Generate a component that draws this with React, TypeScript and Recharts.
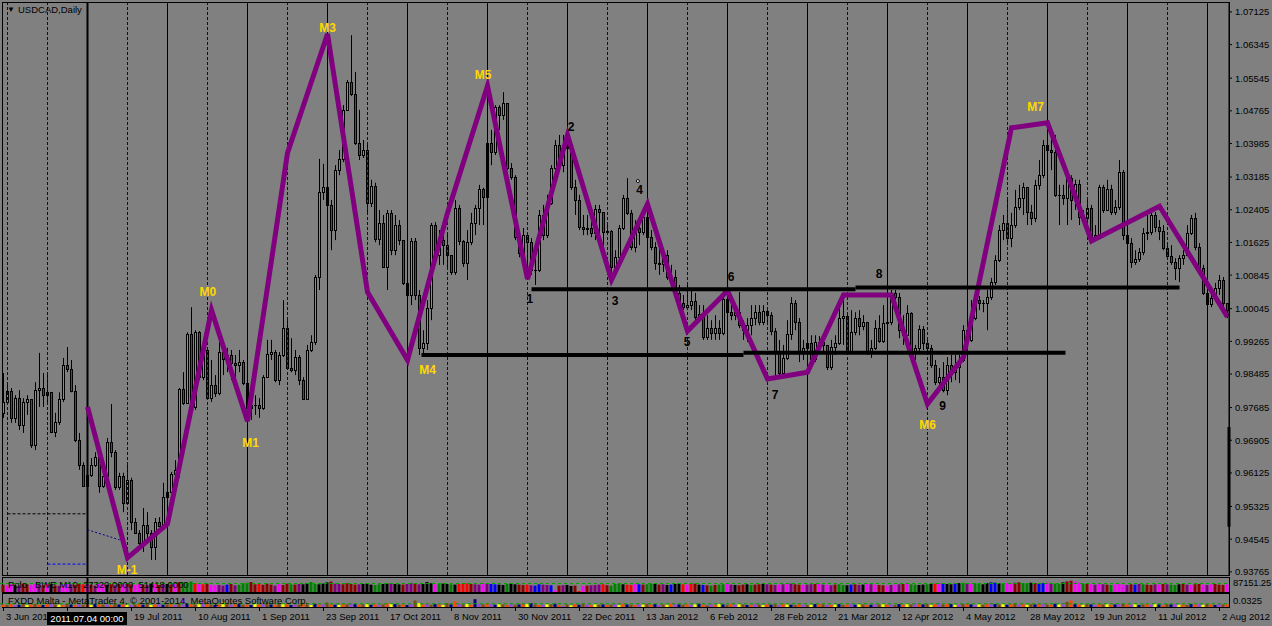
import React from "react";
import {
  Bar,
  BarChart,
  Cell,
  ComposedChart,
  Line,
  ReferenceDot,
  ReferenceLine,
  Scatter,
  XAxis,
  YAxis,
} from "recharts";

const FONT = '"Liberation Sans", Arial, sans-serif';
const BG = "#808080";
const UP = "#32cd32";
const DOWN = "#e01010";

// daily USDCAD bars, 3 Jun 2011 .. Aug 2012
const firstOpen = 0.9756;
const closes = [
  0.9782, 0.9808, 0.9744, 0.9791, 0.9727, 0.9782, 0.9789, 0.9679, 0.981, 0.9815,
  0.9798, 0.9805, 0.971, 0.9734, 0.9789, 0.987, 0.9861, 0.9808, 0.9691, 0.9631,
  0.9582, 0.9608, 0.9631, 0.965, 0.9582, 0.9606, 0.9686, 0.9662, 0.9579, 0.9606,
  0.9541, 0.9596, 0.9495, 0.9469, 0.9446, 0.9488, 0.9469, 0.9436, 0.9495, 0.9486,
  0.9555, 0.9567, 0.961, 0.962, 0.9813, 0.978, 0.9943, 0.977, 0.9948, 0.9841,
  0.9906, 0.9791, 0.9822, 0.9803, 0.9901, 0.9885, 0.9894, 0.9875, 0.987, 0.9877,
  0.9827, 0.9768, 0.9775, 0.9775, 0.9768, 0.9841, 0.9896, 0.9901, 0.9834, 0.9894,
  0.9958, 0.9863, 0.9858, 0.9889, 0.9834, 0.9789, 0.9906, 0.9925, 1.008, 1.0283,
  1.0295, 1.0252, 1.0192, 1.0335, 1.0362, 1.0479, 1.0545, 1.0516, 1.04, 1.0371,
  1.0383, 1.0257, 1.0298, 1.0171, 1.0209, 1.0104, 1.0233, 1.0144, 1.0204, 1.0168,
  1.0066, 1.0037, 1.0166, 1.0037, 0.9911, 0.9923, 1.0006, 1.0204, 1.0132, 1.0168,
  1.0156, 1.0132, 1.0092, 1.0245, 1.0166, 1.0114, 1.0163, 1.0209, 1.0245, 1.0291,
  1.0271, 1.04, 1.0378, 1.0485, 1.0467, 1.0495, 1.034, 1.0318, 1.0175, 1.0137,
  1.018, 1.0163, 1.0097, 1.0097, 1.0228, 1.018, 1.0257, 1.034, 1.0395, 1.0347,
  1.0388, 1.0395, 1.0295, 1.0264, 1.0199, 1.0195, 1.0197, 1.0185, 1.0243, 1.0235,
  1.0187, 1.019, 1.0104, 1.0127, 1.0197, 1.0269, 1.0233, 1.0151, 1.0197, 1.0187,
  1.0223, 1.0175, 1.0151, 1.0114, 1.0111, 1.0132, 1.008, 1.008, 1.0042, 1.0018,
  1.0008, 1.0013, 1.0023, 0.9984, 0.9991, 0.9936, 0.9958, 0.9946, 0.9958, 0.9946,
  1.0028, 0.9996, 0.9989, 0.9996, 0.9965, 0.9953, 0.9965, 0.9982, 0.9996, 0.9972,
  0.9999, 0.9989, 0.9951, 0.9901, 0.9851, 0.9887, 0.9943, 1.0018, 0.9972, 0.9899,
  0.9911, 0.9923, 0.9885, 0.9925, 0.9925, 0.9918, 0.9865, 0.9913, 0.9923, 0.9982,
  0.9987, 0.9904, 0.9948, 0.9982, 0.9963, 0.9972, 0.9901, 0.9911, 0.9958, 0.9928,
  0.997, 0.9972, 1.0042, 1.0032, 0.9953, 0.9941, 0.9994, 0.9899, 0.9911, 0.9956,
  0.9923, 0.9911, 0.987, 0.9829, 0.9841, 0.981, 0.987, 0.9853, 0.9865, 0.9882,
  0.9953, 0.993, 0.9982, 1.0025, 1.0018, 1.0018, 1.0032, 1.0068, 1.0121, 1.0192,
  1.0209, 1.0173, 1.0204, 1.0247, 1.0269, 1.0295, 1.0235, 1.0221, 1.03, 1.0323,
  1.0395, 1.0383, 1.0378, 1.0276, 1.0276, 1.0269, 1.0316, 1.0264, 1.0302, 1.0223,
  1.0221, 1.0245, 1.0175, 1.018, 1.0295, 1.024, 1.0291, 1.0235, 1.0247, 1.033,
  1.018, 1.0161, 1.0116, 1.0123, 1.0139, 1.0185, 1.0187, 1.0228, 1.0199, 1.019,
  1.0149, 1.013, 1.0116, 1.0102, 1.0125, 1.0132, 1.0185, 1.0221, 1.0151, 1.0102,
  1.0042, 1.0015, 1.003, 1.0054, 1.0073, 1.0018, 1.0001,
];
const highs = [
  0.9851, 0.9822, 0.9815, 0.9798, 0.981, 0.9791, 0.9798, 0.977, 0.9829, 0.9899,
  0.9851, 0.9851, 0.9805, 0.9756, 0.9805, 0.9887, 0.9913, 0.9882, 0.9822, 0.9708,
  0.9638, 0.9636, 0.9648, 0.9662, 0.9662, 0.962, 0.9696, 0.9777, 0.9667, 0.9613,
  0.9613, 0.9631, 0.9601, 0.9505, 0.9476, 0.9529, 0.9519, 0.9476, 0.9505, 0.9507,
  0.9589, 0.9579, 0.9615, 0.9643, 0.9815, 0.9853, 0.9948, 1.0008, 0.9953, 0.9951,
  0.993, 0.9906, 0.9882, 0.9846, 0.993, 0.9911, 0.9911, 0.9906, 0.9894, 0.9906,
  0.9882, 0.9798, 0.9791, 0.9798, 0.9791, 0.9846, 0.993, 0.993, 0.9906, 0.9901,
  1.0025, 0.9977, 0.9934, 0.9906, 0.9894, 0.9841, 0.9918, 0.9941, 1.0085, 1.0362,
  1.035, 1.0312, 1.0264, 1.0347, 1.0383, 1.049, 1.055, 1.0657, 1.0569, 1.0479,
  1.0407, 1.0395, 1.0312, 1.0305, 1.024, 1.0228, 1.024, 1.024, 1.0228, 1.0216,
  1.0168, 1.0102, 1.0173, 1.0173, 1.0049, 0.9953, 1.0025, 1.0209, 1.0211, 1.0192,
  1.0216, 1.018, 1.0132, 1.0264, 1.0252, 1.0168, 1.0192, 1.0233, 1.0252, 1.03,
  1.0293, 1.0407, 1.0431, 1.049, 1.049, 1.0521, 1.049, 1.0352, 1.0323, 1.0192,
  1.0197, 1.0187, 1.0173, 1.0132, 1.024, 1.0252, 1.0276, 1.0347, 1.0407, 1.0419,
  1.0419, 1.0424, 1.0395, 1.0312, 1.0276, 1.0228, 1.0228, 1.0216, 1.0252, 1.0252,
  1.0216, 1.0204, 1.0192, 1.0144, 1.0204, 1.0276, 1.0316, 1.024, 1.0216, 1.0216,
  1.024, 1.0288, 1.0192, 1.0163, 1.0156, 1.0144, 1.0144, 1.0109, 1.0097, 1.0061,
  1.0037, 1.0068, 1.0049, 1.0042, 1.0013, 1.0013, 0.9989, 0.9977, 0.9989, 0.9977,
  1.0049, 1.0049, 1.0013, 1.0013, 1.0044, 0.9977, 0.9982, 1.0013, 1.0013, 1.0013,
  1.0013, 1.0001, 0.9996, 0.9958, 0.993, 0.9918, 0.9977, 1.0032, 1.0025, 0.9982,
  0.993, 0.9934, 0.9941, 0.9941, 0.9939, 0.9934, 0.9918, 0.993, 0.9941, 1.0013,
  1.0025, 0.9989, 1.0001, 0.9996, 1.0001, 0.9989, 0.9965, 0.993, 0.9977, 0.9989,
  1.0013, 0.9989, 1.0049, 1.0049, 1.0042, 0.9989, 1.0013, 0.9996, 0.9918, 0.9965,
  0.9963, 0.993, 0.9918, 0.9882, 0.9863, 0.9877, 0.9889, 0.9894, 0.9894, 0.9894,
  0.9965, 0.9965, 1.0025, 1.0037, 1.0035, 1.0025, 1.0049, 1.0078, 1.0132, 1.0204,
  1.0228, 1.0264, 1.0233, 1.0288, 1.03, 1.0305, 1.0269, 1.0252, 1.0312, 1.0359,
  1.0407, 1.0443, 1.0436, 1.0419, 1.03, 1.03, 1.0323, 1.0323, 1.0312, 1.0312,
  1.024, 1.0264, 1.0252, 1.0204, 1.03, 1.03, 1.0312, 1.03, 1.0264, 1.0359,
  1.0335, 1.018, 1.0173, 1.0144, 1.0149, 1.0197, 1.0228, 1.024, 1.0235, 1.0216,
  1.0204, 1.0156, 1.0156, 1.0125, 1.0132, 1.0144, 1.0204, 1.0228, 1.0233, 1.0161,
  1.0109, 1.0042, 1.0037, 1.0066, 1.0085, 1.008, 1.0018,
];
const lows = [
  0.9744, 0.9775, 0.9732, 0.9732, 0.9715, 0.9708, 0.9751, 0.9672, 0.9667, 0.977,
  0.977, 0.9775, 0.9708, 0.9698, 0.9727, 0.9782, 0.9853, 0.9805, 0.9686, 0.962,
  0.9579, 0.9565, 0.9603, 0.9627, 0.9565, 0.9577, 0.9603, 0.965, 0.9572, 0.9572,
  0.9519, 0.9543, 0.9476, 0.9467, 0.9429, 0.9424, 0.9446, 0.9405, 0.9405, 0.9483,
  0.9483, 0.9524, 0.9565, 0.9603, 0.9601, 0.9775, 0.981, 0.9768, 0.9763, 0.9834,
  0.9834, 0.9787, 0.9782, 0.9794, 0.9798, 0.9846, 0.9853, 0.9834, 0.9822, 0.9853,
  0.9822, 0.9739, 0.9739, 0.9751, 0.9744, 0.9763, 0.9858, 0.9882, 0.9829, 0.9822,
  0.9889, 0.9858, 0.9853, 0.9846, 0.9822, 0.9787, 0.9805, 0.9901, 0.9918, 1.0049,
  1.0264, 1.0228, 1.0144, 1.0168, 1.0323, 1.0354, 1.0479, 1.0512, 1.0395, 1.0359,
  1.0364, 1.0233, 1.0247, 1.0163, 1.0156, 1.0102, 1.0049, 1.0132, 1.0132, 1.0156,
  1.0061, 1.0001, 1.0013, 1.0025, 0.9894, 0.9894, 0.9906, 0.9977, 1.0116, 1.0109,
  1.0109, 1.0097, 1.0085, 1.0085, 1.0156, 1.0104, 1.0073, 1.0156, 1.018, 1.0204,
  1.0204, 1.0264, 1.0347, 1.0371, 1.0431, 1.0455, 1.0335, 1.0312, 1.0168, 1.0127,
  1.0125, 1.0097, 1.0085, 1.0061, 1.0092, 1.0168, 1.0173, 1.0252, 1.0323, 1.0335,
  1.033, 1.0359, 1.0288, 1.0228, 1.0192, 1.018, 1.018, 1.0175, 1.0168, 1.018,
  1.0125, 1.018, 1.0073, 1.0097, 1.0121, 1.0192, 1.0228, 1.0144, 1.0139, 1.0156,
  1.018, 1.0168, 1.0144, 1.0097, 1.0085, 1.0092, 1.0073, 1.0061, 1.0037, 1.0013,
  1.0001, 1.0001, 1.0001, 0.9977, 0.9977, 0.993, 0.993, 0.993, 0.993, 0.993,
  0.9941, 0.9982, 0.9977, 0.9977, 0.9958, 0.993, 0.9925, 0.9941, 0.9965, 0.9965,
  0.9965, 0.9965, 0.9941, 0.9841, 0.9846, 0.9839, 0.9882, 0.993, 0.9953, 0.9877,
  0.9882, 0.9894, 0.9877, 0.9877, 0.9906, 0.9901, 0.9858, 0.9858, 0.9894, 0.9918,
  0.9918, 0.9899, 0.9899, 0.9941, 0.9941, 0.9953, 0.9894, 0.9887, 0.9906, 0.9923,
  0.9923, 0.9963, 0.9965, 1.0025, 0.9934, 0.9918, 0.9965, 0.9894, 0.9882, 0.9901,
  0.9906, 0.9894, 0.9863, 0.9822, 0.9815, 0.9805, 0.9798, 0.9829, 0.9834, 0.9827,
  0.9877, 0.9894, 0.9925, 0.9977, 1.0001, 0.9996, 0.9953, 1.0025, 1.0061, 1.0116,
  1.0168, 1.0156, 1.0151, 1.0197, 1.024, 1.0228, 1.0204, 1.0204, 1.0211, 1.0288,
  1.0316, 1.0323, 1.0335, 1.0271, 1.0204, 1.0252, 1.0204, 1.0216, 1.024, 1.0204,
  1.0204, 1.0211, 1.0168, 1.0173, 1.0173, 1.0233, 1.024, 1.0228, 1.0228, 1.024,
  1.0168, 1.0144, 1.0102, 1.0109, 1.0116, 1.0132, 1.0168, 1.018, 1.0187, 1.0168,
  1.0144, 1.0121, 1.0109, 1.0073, 1.0068, 1.0109, 1.0132, 1.018, 1.0144, 1.0097,
  1.0037, 1.0001, 1.0008, 1.0025, 1.0037, 1.0001, 0.9982,
];

// zigzag swing points (bar index, price)
const zigzagBars = [21, 31, 41, 52, 61, 71, 81, 91, 101, 111, 121, 131, 141, 152, 161, 171, 181, 191, 201, 210, 222, 231, 240, 252, 261, 266, 272, 289, 306];
const zigzagPrices = [0.977, 0.941, 0.9491, 1.0001, 0.9736, 1.0376, 1.066, 1.0044, 0.9882, 1.0233, 1.0536, 1.0075, 1.0419, 1.0073, 1.0254, 0.9951, 1.0047, 0.9837, 0.9853, 1.0037, 1.0037, 0.9777, 0.9889, 1.0436, 1.0448, 1.0323, 1.0166, 1.0249, 0.9985];

const markTexts = ["M-1", "M0", "M1", "M3", "M4", "M5", "1", "2", "3", "4", "5", "6", "7", "8", "9", "M6", "M7"];
const markBars = [30.9, 51.1, 61.8, 81, 106, 119.9, 131.6, 141.9, 152.9, 159, 170.9, 181.9, 192.9, 218.9, 234.8, 231, 258];
const markPrices = [0.9381, 1.0045, 0.9684, 1.0673, 0.9858, 1.0562, 1.0027, 1.0437, 1.0023, 1.0288, 0.9924, 1.0081, 0.9799, 1.0087, 0.9772, 0.9727, 1.0485];

// drawn horizontal levels
const levelFrom = [132, 213, 104.5, 185];
const levelTo = [213, 294, 185, 265.5];
const levelPrice = [1.0051, 1.0055, 0.9894, 0.9899];

// price band marker on the right scale
const scaleBandTop = 0.9722;
const scaleBandBottom = 0.9484;

const priceTicks = [1.07125, 1.06345, 1.05545, 1.04765, 1.03985, 1.03185, 1.02405, 1.01625, 1.00845, 1.00045, 0.99265, 0.98485, 0.97685, 0.96905, 0.96125, 0.95325, 0.94545, 0.93765];
const dateTicks = [0, 16, 32, 48, 64, 80, 96, 112, 128, 144, 160, 176, 192, 208, 224, 240, 256, 272, 288, 304];
// the 2nd label sits under the crosshair date box, so it is not shown
const dateLabels = ["3 Jun 2011", "", "19 Jul 2011", "10 Aug 2011", "1 Sep 2011", "23 Sep 2011", "17 Oct 2011", "8 Nov 2011", "30 Nov 2011", "22 Dec 2011", "13 Jan 2012", "6 Feb 2012", "28 Feb 2012", "21 Mar 2012", "12 Apr 2012", "4 May 2012", "28 May 2012", "19 Jun 2012", "11 Jul 2012", "2 Aug 2012"];

// volume sub-window (thousands) and bar colour codes
const volumeK = [
  45, 40, 50, 42, 38, 52, 48, 44, 50, 46, 40, 55, 48, 42, 38, 45, 50, 47, 44, 52,
  48, 50, 46, 40, 55, 50, 45, 48, 42, 50, 46, 52, 48, 44, 50, 47, 45, 53, 49, 44,
  48, 50, 46, 55, 60, 62, 58, 65, 55, 50, 48, 52, 45, 42, 44, 40, 46, 50, 42, 45,
  55, 58, 62, 48, 50, 45, 52, 46, 40, 50, 44, 52, 48, 46, 50, 48, 55, 62, 50, 48,
  52, 60, 65, 52, 50, 48, 54, 50, 46, 48, 50, 52, 46, 44, 48, 50, 52, 55, 50, 48,
  46, 50, 55, 52, 48, 50, 62, 54, 48, 50, 52, 50, 48, 46, 50, 52, 54, 50, 48, 46,
  55, 52, 50, 48, 46, 44, 50, 52, 48, 46, 44, 46, 42, 40, 48, 46, 44, 42, 12, 40,
  42, 44, 38, 40, 6, 38, 40, 42, 44, 46, 48, 42, 40, 50, 52, 48, 46, 44, 50, 48,
  46, 48, 52, 50, 46, 48, 44, 46, 50, 52, 48, 46, 50, 52, 46, 44, 42, 40, 44, 46,
  48, 50, 46, 44, 42, 46, 48, 44, 46, 48, 50, 48, 46, 44, 46, 48, 50, 52, 48, 46,
  44, 46, 48, 50, 52, 46, 44, 42, 46, 48, 44, 42, 46, 48, 44, 46, 50, 48, 46, 44,
  42, 40, 44, 46, 48, 50, 52, 48, 46, 44, 46, 48, 50, 52, 56, 54, 50, 48, 52, 56,
  58, 55, 52, 54, 50, 48, 56, 60, 58, 54, 52, 56, 54, 58, 60, 56, 54, 58, 56, 52,
  55, 58, 54, 52, 50, 60, 66, 70, 64, 58, 52, 50, 48, 46, 50, 48, 46, 44, 48, 50,
  46, 44, 48, 46, 50, 48, 46, 44, 48, 46, 50, 48, 46, 44, 48, 50, 46, 44, 48, 50,
  46, 44, 48, 50, 46, 44, 48,
];
const volumeColorCodes =
  "dmmkpddmmpdmkdpmmpddrmdpmmkdpdmpdmmdpkmdpkdmd" +
  "gggrmrdmmppbdpgggddrdddpmddgdpkkggkkkdppddddpkkkggkkpkkdppdp" +
  "kkkmgkkgkrrrdppmpbbkkgkkddrpbbppbmdpkkdrmdppprdgggkrrmbdggkd" +
  "pkbkkrmrdkbdgdggmpkddkgddkpdpmpmpddmppdmpmpdggkbdpkmpmddmpmp" +
  "dmggkkgkrmbkkbkgpmggkkbbkgmmddggkdbbmpggkddmmgdmpmpdgmmmpdbp" +
  "gddpmdpggkdpmddmpmdddm";
const volumePalette: Record<string, string> = { g: "#008000", k: "#000000", r: "#ff0000", d: "#8b0000", m: "#ff00ff", p: "#800080", b: "#0000ff" };

// second sub-window (thousandths) and colour codes
const spreadM = [
  8, 6, 10, 5, 7, 9, 6, 8, 10, 7, 6, 9, 12, 8, 7, 6, 10, 8, 6, 9,
  7, 8, 6, 10, 9, 7, 8, 6, 10, 8, 9, 7, 6, 8, 12, 7, 9, 6, 8, 10,
  7, 8, 9, 6, 10, 28, 12, 9, 8, 11, 18, 9, 7, 6, 8, 14, 10, 8, 12, 9,
  7, 8, 6, 10, 8, 9, 12, 8, 7, 9, 10, 8, 6, 9, 7, 12, 8, 6, 10, 8,
  9, 14, 8, 7, 6, 10, 8, 12, 9, 7, 8, 10, 7, 9, 6, 8, 12, 10, 9, 7,
  8, 6, 9, 20, 12, 8, 10, 7, 9, 8, 6, 12, 8, 18, 10, 8, 9, 7, 24, 10,
  8, 12, 9, 7, 10, 8, 6, 9, 7, 8, 10, 9, 12, 8, 6, 7, 9, 8, 10, 6,
  3, 8, 5, 9, 7, 10, 8, 6, 9, 7, 8, 6, 7, 9, 6, 10, 8, 7, 6, 9,
  8, 10, 7, 9, 6, 8, 7, 10, 9, 8, 7, 9, 6, 8, 10, 7, 5, 8, 6, 9,
  8, 6, 9, 7, 10, 8, 6, 7, 9, 8, 6, 8, 7, 9, 6, 10, 8, 7, 6, 9,
  8, 6, 7, 9, 10, 8, 6, 7, 8, 9, 6, 8, 10, 7, 9, 8, 6, 7, 9, 8,
  10, 7, 8, 6, 9, 7, 10, 8, 12, 9, 8, 10, 7, 9, 12, 8, 10, 9, 7, 8,
  9, 10, 8, 6, 9, 7, 10, 12, 9, 8, 10, 7, 9, 12, 8, 10, 7, 9, 8, 10,
  9, 8, 7, 10, 8, 12, 16, 20, 9, 8, 7, 9, 8, 6, 10, 8, 9, 7, 8, 9,
  10, 8, 7, 9, 6, 8, 10, 7, 9, 8, 6, 9, 8, 10, 7, 8, 6, 9, 8, 10,
  7, 9, 8, 6, 10, 8, 9,
];
const spreadColorCodes =
  "obopnbyobonopbyobnopboynobpobnoypbonbyopnbopbpnoby" +
  "pobnoybponbonyopbnobyonpbobynopbonyobpnobynopboynb" +
  "onpbyopbnoybnopbyonpbopnybopbnoynbopybnopbyonbpoyb" +
  "nobpyonbopybonpbyopnbopynobpoynbopybnopbyonbpoynbo" +
  "pbynobpoynbopnybonpbyopbnoybponbyopbonypbonpybopnb" +
  "ynobpoybnopbonypbonoybnpobyonpbopynbopynobnpyobnop" +
  "ybonpbo";
const spreadPalette: Record<string, string> = { o: "#ff4500", y: "#ffff00", p: "#a040e0", n: "#000080", b: "#8b4513", g: "#008000" };

const X_DOMAIN: [number, number] = [-0.875, 306.375];
const PRICE_DOMAIN: [number, number] = [0.9369, 1.07362];

const candles = closes.map((c, i) => {
  const o = i === 0 ? firstOpen : closes[i - 1];
  const hi = Math.max(highs[i], o, c);
  const lo = Math.min(lows[i], o, c);
  return { i, o, c, hi, lo, range: [lo, hi] };
});
const zigzag = zigzagBars.map((i, k) => ({ i, v: zigzagPrices[k] }));
const marks = markTexts.map((t, k) => ({ i: markBars[k], v: markPrices[k], t }));
const levels = levelPrice.map((v, k) => [
  { i: levelFrom[k], v },
  { i: levelTo[k], v },
]);
const volumeBars = volumeK.map((v, i) => ({ i, v: v * 1000, col: volumePalette[volumeColorCodes[i]] }));
const spreadBars = spreadM.map((v, i) => ({ i, v: v / 1000, col: spreadPalette[spreadColorCodes[i]] }));

// hand-drawn objects at the lower left
const blackDash = [{ i: 1, v: 0.9515 }, { i: 21, v: 0.9515 }];
const blueDash = [{ i: 11, v: 0.9395 }, { i: 21, v: 0.9395 }];
const blueSlope = [{ i: 21, v: 0.9477 }, { i: 29, v: 0.9453 }];

const gridDashed = Array.from({ length: 31 }, (_, k) => 1 + 10 * k);
const gridSolid = Array.from({ length: 14 }, (_, k) => 41 + 20 * k);

function Candle(props: any) {
  const { x, y, width, height, payload } = props;
  if (x == null || !payload) return null;
  const cx = Math.floor(x + width / 2) + 0.5;
  const span = payload.hi - payload.lo;
  const toY = (v: number) => (span === 0 ? y : y + ((payload.hi - v) / span) * height);
  const top = Math.round(toY(Math.max(payload.o, payload.c)));
  const bot = Math.round(toY(Math.min(payload.o, payload.c)));
  const up = payload.c >= payload.o;
  return (
    <g>
      <line x1={cx} x2={cx} y1={y} y2={y + height} stroke="#000" strokeWidth={1} />
      {bot - top < 1 ? (
        <line x1={cx - 1.5} x2={cx + 1.5} y1={top + 0.5} y2={top + 0.5} stroke="#000" strokeWidth={1} />
      ) : (
        <rect x={cx - 1} y={top + 0.5} width={2} height={bot - top} fill={up ? UP : DOWN} stroke="#000" strokeWidth={1} />
      )}
    </g>
  );
}

function Mark(props: any) {
  const { cx, cy, payload } = props;
  if (cx == null || !payload) return null;
  const isM = payload.t.startsWith("M");
  return (
    <text x={cx} y={cy} textAnchor="middle" dominantBaseline="central" fontFamily={FONT} fontWeight="bold" fontSize={12} fill={isM ? "#ffd700" : "#000"}>
      {payload.t}
    </text>
  );
}

function DateTick(props: any) {
  const { x, y, payload } = props;
  const k = dateTicks.indexOf(payload.value);
  const px = Math.floor(x) + 0.5;
  return (
    <g>
      <line x1={px} x2={px} y1={y} y2={y + 4} stroke="#000" />
      {dateLabels[k] ? (
        <text x={px + 2.5} y={y + 13} fontFamily={FONT} fontSize={9.5} fill="#000" textAnchor="start">
          {dateLabels[k]}
        </text>
      ) : null}
    </g>
  );
}

const abs = (left: number, top: number, extra: React.CSSProperties = {}): React.CSSProperties => ({
  position: "absolute",
  left,
  top,
  fontFamily: FONT,
  fontSize: 9.5,
  lineHeight: "12px",
  color: "#000",
  whiteSpace: "nowrap",
  ...extra,
});

export default function App() {
  return (
    <div style={{ position: "relative", width: 1272, height: 626, background: BG, overflow: "hidden" }}>
      <style>{"body{margin:0}"}</style>

      <div style={{ position: "absolute", left: 0, top: 0 }}>
        <ComposedChart width={1272} height={576} data={candles} margin={{ top: 2, right: 0, bottom: 1, left: 0 }}>
          <XAxis type="number" dataKey="i" domain={X_DOMAIN} hide allowDataOverflow />
          <YAxis
            orientation="right"
            type="number"
            domain={PRICE_DOMAIN}
            ticks={priceTicks}
            interval={0}
            width={43}
            allowDataOverflow
            tickFormatter={(v: number) => v.toFixed(5)}
            tick={{ fill: "#000", fontSize: 9.5, fontFamily: FONT }}
            tickSize={3}
            tickMargin={3}
            tickLine={{ stroke: "#000" }}
            axisLine={{ stroke: "#000" }}
          />
          {gridDashed.map((i) => (
            <ReferenceLine key={`d${i}`} x={i} stroke="#000080" strokeDasharray="3 2" />
          ))}
          {gridSolid.map((i) => (
            <ReferenceLine key={`s${i}`} x={i} stroke="#000" />
          ))}
          <ReferenceLine x={21} stroke="#000" strokeWidth={2} />
          <Bar dataKey="range" barSize={4} shape={(p: any) => <Candle {...p} />} isAnimationActive={false} />
          <Line data={blackDash} dataKey="v" stroke="#000" strokeDasharray="3 2" dot={false} isAnimationActive={false} />
          <Line data={blueDash} dataKey="v" stroke="#0000ff" strokeDasharray="3 2" dot={false} isAnimationActive={false} />
          <Line data={blueSlope} dataKey="v" stroke="#000080" strokeDasharray="2 2" dot={false} isAnimationActive={false} />
          <Line data={zigzag} dataKey="v" type="linear" stroke="#800080" strokeWidth={5} dot={false} isAnimationActive={false} />
          {levels.map((seg, k) => (
            <Line key={`l${k}`} data={seg} dataKey="v" stroke="#000" strokeWidth={4} dot={false} isAnimationActive={false} />
          ))}
          <ReferenceDot x={158.6} y={1.0309} r={1.5} fill="#fff" stroke="#000" />
          <Scatter data={marks} dataKey="v" shape={(p: any) => <Mark {...p} />} isAnimationActive={false} />
          <ReferenceLine
            segment={[
              { x: X_DOMAIN[1], y: scaleBandTop },
              { x: X_DOMAIN[1], y: scaleBandBottom },
            ]}
            stroke="#000"
            strokeWidth={3}
            ifOverflow="visible"
          />
        </ComposedChart>
      </div>

      {/* frames */}
      <div style={{ position: "absolute", left: 2, top: 2, width: 1228, height: 574, border: "1px solid #000", boxSizing: "border-box", pointerEvents: "none" }} />
      <div style={{ position: "absolute", left: 2, top: 577, width: 1228, height: 16, border: "1px solid #000", boxSizing: "border-box" }} />
      <div style={{ position: "absolute", left: 2, top: 593, width: 1228, height: 15, border: "1px solid #000", boxSizing: "border-box" }} />

      <div style={abs(7, 4, { fontSize: 8 })}>▼</div>
      <div style={abs(18, 4)}>USDCAD,Daily</div>

      <div style={{ position: "absolute", left: 0, top: 578 }}>
        <BarChart width={1272} height={14} data={volumeBars} margin={{ top: 0, right: 43, bottom: 0, left: 0 }}>
          <XAxis type="number" dataKey="i" domain={X_DOMAIN} hide allowDataOverflow />
          <YAxis hide domain={[0, 87151]} allowDataOverflow />
          <Bar dataKey="v" barSize={3} isAnimationActive={false}>
            {volumeBars.map((d) => (
              <Cell key={d.i} fill={d.col} />
            ))}
          </Bar>
          <ReferenceLine y={53000} stroke="#00a000" strokeDasharray="3 3" />
          <ReferenceLine x={21} stroke="#000" strokeWidth={2} />
        </BarChart>
      </div>

      <div style={{ position: "absolute", left: 0, top: 594 }}>
        <BarChart width={1272} height={32} data={spreadBars} margin={{ top: 0, right: 43, bottom: 0, left: 0 }}>
          <XAxis
            type="number"
            dataKey="i"
            domain={X_DOMAIN}
            ticks={dateTicks}
            interval={0}
            height={19}
            axisLine={false}
            tickLine={false}
            tickSize={0}
            tickMargin={0}
            tick={(p: any) => <DateTick {...p} />}
            allowDataOverflow
          />
          <YAxis hide domain={[0, 0.04]} allowDataOverflow />
          <Bar dataKey="v" barSize={3} isAnimationActive={false}>
            {spreadBars.map((d) => (
              <Cell key={d.i} fill={d.col} />
            ))}
          </Bar>
          <ReferenceLine y={0.01} stroke="#00a000" strokeDasharray="3 3" />
          <ReferenceLine x={21} stroke="#000" strokeWidth={2} />
        </BarChart>
      </div>

      <div style={abs(8, 579)}>Polo&nbsp;&nbsp; BWE M10&nbsp; 27320.0000&nbsp; 51418.0000</div>
      <div style={abs(8, 595)}>FXDD Malta - MetaTrader 4, © 2001-2014, MetaQuotes Software Corp.</div>

      <div style={abs(1233, 577, { letterSpacing: "-0.2px" })}>87151.25</div>
      <div style={abs(1233, 595)}>0.0325</div>

      <div style={abs(47, 612, { width: 80, height: 13, background: "#000", color: "#fff", textAlign: "center", lineHeight: "13px" })}>2011.07.04 00:00</div>
    </div>
  );
}
